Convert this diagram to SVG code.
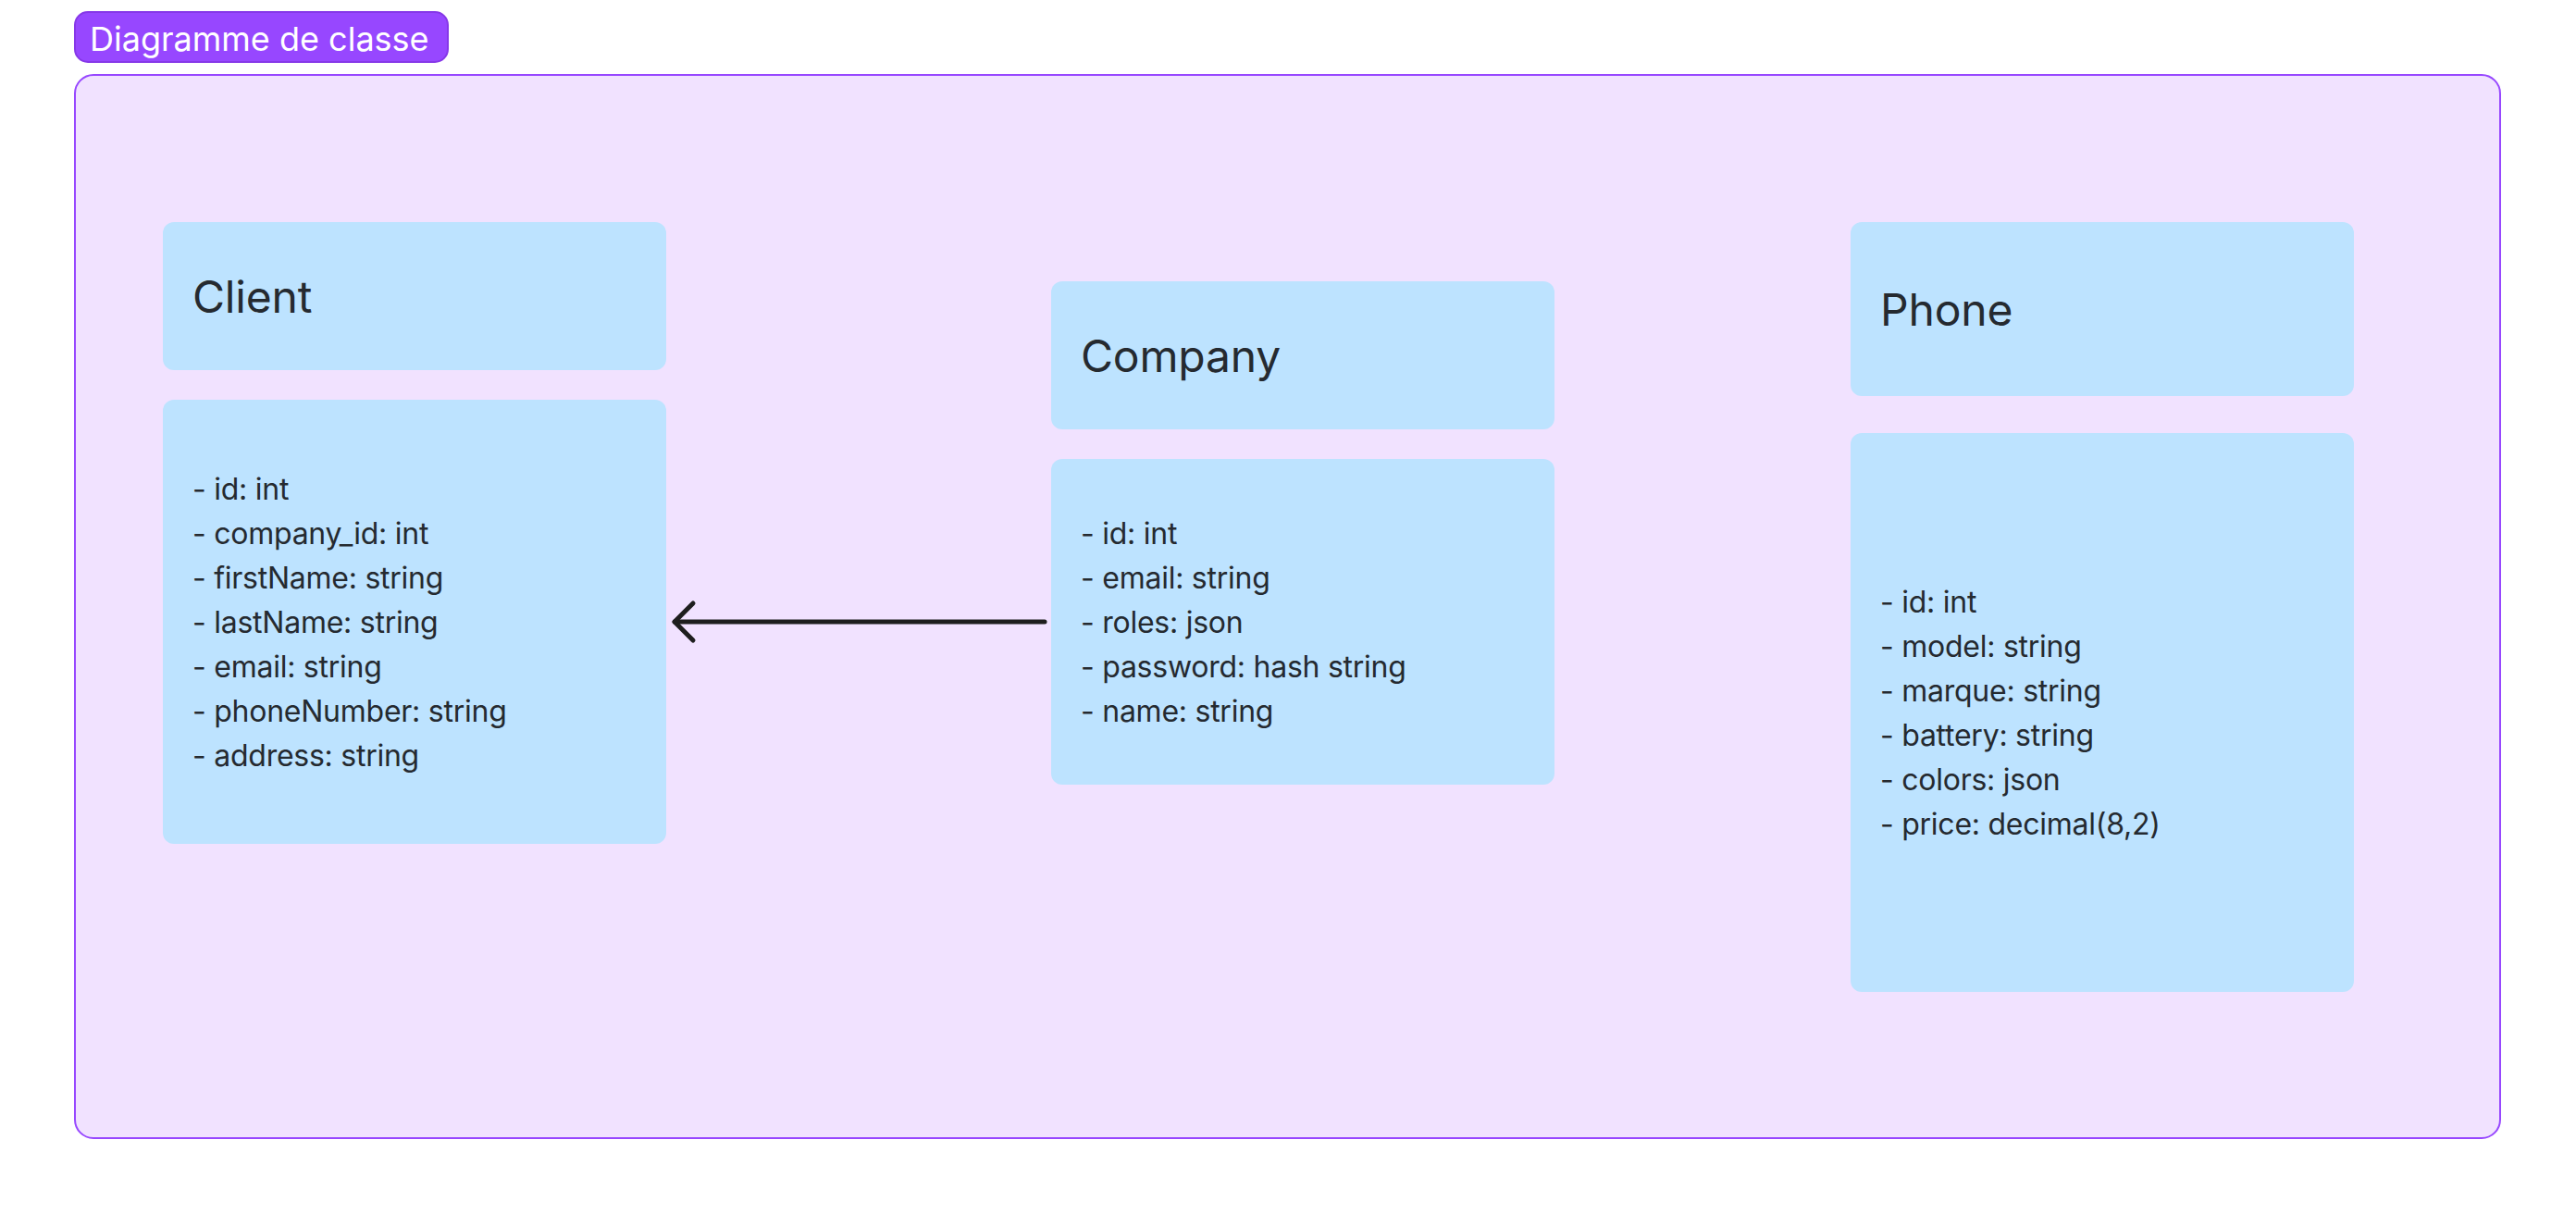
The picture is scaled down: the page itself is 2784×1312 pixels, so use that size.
<svg xmlns="http://www.w3.org/2000/svg" width="2784" height="1312" viewBox="0 0 2784 1312">
<style>
.box{fill:#BDE3FF}
.title{font-family:Inter,"Noto Sans",sans-serif;font-size:48px;fill:#252A30;letter-spacing:-0.2px}
.attr{font-family:Inter,"Noto Sans",sans-serif;font-size:32px;fill:#252A30;letter-spacing:-0.25px}
.conn{fill:none;stroke:#1E1E1E;stroke-width:5;stroke-linecap:round;stroke-linejoin:round}
</style>
<rect width="2784" height="1312" fill="#FFFFFF"/>
<g id="frame">
<rect x="81" y="81" width="2621" height="1149" rx="20" fill="#F1E2FF" stroke="#9747FF" stroke-width="2"/>
</g>
<g id="frame-label">
<rect x="81" y="13" width="403" height="54" rx="14" fill="#9747FF" stroke="#8638E8" stroke-width="2"/>
<text x="97" y="55" font-family="Inter,'Noto Sans',sans-serif" font-size="36" fill="#FFFFFF">Diagramme de classe</text>
</g>
<g id="client">
<rect class="box" x="176" y="240" width="544" height="160" rx="12"/>
<text class="title" x="208" y="338">Client</text>
<rect class="box" x="176" y="432" width="544" height="480" rx="12"/>
<text class="attr" x="208" y="540">- id: int</text>
<text class="attr" x="208" y="588">- company_id: int</text>
<text class="attr" x="208" y="636">- firstName: string</text>
<text class="attr" x="208" y="684">- lastName: string</text>
<text class="attr" x="208" y="732">- email: string</text>
<text class="attr" x="208" y="780">- phoneNumber: string</text>
<text class="attr" x="208" y="828">- address: string</text>
</g>
<g id="company">
<rect class="box" x="1136" y="304" width="544" height="160" rx="12"/>
<text class="title" x="1168" y="402">Company</text>
<rect class="box" x="1136" y="496" width="544" height="352" rx="12"/>
<text class="attr" x="1168" y="588">- id: int</text>
<text class="attr" x="1168" y="636">- email: string</text>
<text class="attr" x="1168" y="684">- roles: json</text>
<text class="attr" x="1168" y="732">- password: hash string</text>
<text class="attr" x="1168" y="780">- name: string</text>
</g>
<g id="phone">
<rect class="box" x="2000" y="240" width="544" height="188" rx="12"/>
<text class="title" x="2032" y="352">Phone</text>
<rect class="box" x="2000" y="468" width="544" height="604" rx="12"/>
<text class="attr" x="2032" y="662">- id: int</text>
<text class="attr" x="2032" y="710">- model: string</text>
<text class="attr" x="2032" y="758">- marque: string</text>
<text class="attr" x="2032" y="806">- battery: string</text>
<text class="attr" x="2032" y="854">- colors: json</text>
<text class="attr" x="2032" y="902">- price: decimal(8,2)</text>
</g>
<g id="connectors">
<path class="conn" d="M1129 672 H729"/>
<path class="conn" d="M749 652 L729 672 L749 692"/>
</g>
</svg>
